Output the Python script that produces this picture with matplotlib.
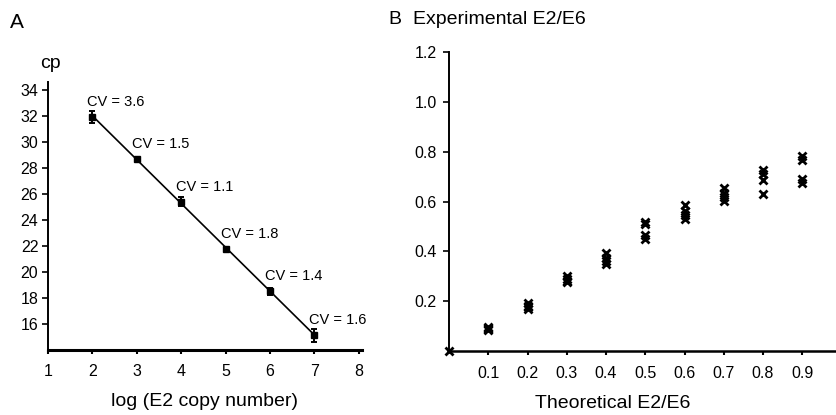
import numpy as np
import matplotlib
matplotlib.use("Agg")
import matplotlib.pyplot as plt

plt.rcParams['font.family'] = ['Liberation Sans', 'DejaVu Sans']

# Panel A data
log_copies = [2, 3, 4, 5, 6, 7]
cp_values = [31.9, 28.7, 25.4, 21.8, 18.5, 15.15]
cp_err = [0.45, 0.15, 0.35, 0.15, 0.3, 0.5]
cv_labels = ["CV = 3.6", "CV = 1.5", "CV = 1.1", "CV = 1.8", "CV = 1.4", "CV = 1.6"]
a_xticks = [1, 2, 3, 4, 5, 6, 7, 8]
a_yticks = [16, 18, 20, 22, 24, 26, 28, 30, 32, 34]

# Panel B data
theo = [0.0,
        0.1, 0.1, 0.1, 0.1,
        0.2, 0.2, 0.2, 0.2,
        0.3, 0.3, 0.3, 0.3,
        0.4, 0.4, 0.4, 0.4,
        0.5, 0.5, 0.5, 0.5,
        0.6, 0.6, 0.6, 0.6,
        0.7, 0.7, 0.7, 0.7,
        0.8, 0.8, 0.8, 0.8,
        0.9, 0.9, 0.9, 0.9]
expt = [0.0,
        0.098, 0.092, 0.088, 0.085,
        0.192, 0.182, 0.175, 0.170,
        0.302, 0.290, 0.280, 0.275,
        0.392, 0.375, 0.362, 0.350,
        0.517, 0.510, 0.465, 0.450,
        0.585, 0.560, 0.545, 0.528,
        0.655, 0.635, 0.617, 0.602,
        0.727, 0.710, 0.685, 0.632,
        0.782, 0.768, 0.692, 0.675]
b_xticks = [0.1, 0.2, 0.3, 0.4, 0.5, 0.6, 0.7, 0.8, 0.9]
b_yticks = [0.2, 0.4, 0.6, 0.8, 1.0, 1.2]

fig = plt.figure(figsize=(8.36, 4.15), dpi=100)

# ---------- Panel A ----------
axA = fig.add_axes([0.0574, 0.1566, 0.3756, 0.6458])
slope, intercept = np.polyfit(log_copies, cp_values, 1)
xl = np.array([log_copies[0], log_copies[-1]])
axA.plot(xl, slope * xl + intercept, color='black', lw=1.2)
axA.errorbar(log_copies, cp_values, yerr=cp_err, fmt='s', color='black',
             ms=4.5, capsize=2.5, elinewidth=1.4, capthick=1.4)
for x, y, t in zip(log_copies, cp_values, cv_labels):
    axA.annotate(t, (x, y), xytext=(-5, 15), textcoords='offset pixels',
                 ha='left', va='center', fontsize=10.5)
axA.set_xlim(1, 8.07)
axA.set_ylim(14, 34.6)
axA.set_xticks(a_xticks)
axA.set_yticks(a_yticks)
for s in ['top', 'right']:
    axA.spines[s].set_visible(False)
axA.spines['left'].set_linewidth(1.4)
axA.spines['bottom'].set_linewidth(2.2)
axA.tick_params(axis='y', direction='out', length=4, width=1.2, labelsize=11.5, pad=3)
axA.tick_params(axis='x', direction='out', length=3, width=1.5, labelsize=11.5, pad=7)
axA.set_xlabel("log (E2 copy number)", fontsize=14, labelpad=10)
fig.text(40 / 836, 1 - 63 / 415, "cp", fontsize=14, ha='left', va='center')
fig.text(10 / 836, 1 - 22 / 415, "A", fontsize=15, ha='left', va='center')

# ---------- Panel B ----------
axB = fig.add_axes([0.5371, 0.1542, 0.4629, 0.7205])
axB.plot(theo, expt, linestyle='none', marker='x', color='black', ms=5.5, mew=2.0,
         clip_on=False)
axB.set_xlim(0, 0.986)
axB.set_ylim(0, 1.2)
axB.set_xticks(b_xticks)
axB.set_yticks(b_yticks)
axB.set_xticklabels([f"{v:.1f}" for v in b_xticks])
axB.set_yticklabels([f"{v:.1f}" for v in b_yticks])
for s in ['top', 'right']:
    axB.spines[s].set_visible(False)
axB.spines['left'].set_linewidth(1.4)
axB.spines['bottom'].set_linewidth(1.8)
axB.tick_params(axis='y', direction='out', length=4, width=1.2, labelsize=11.5, pad=5)
axB.tick_params(axis='x', direction='out', length=3, width=1.5, labelsize=11.5, pad=8)
axB.set_xlabel("Theoretical E2/E6", fontsize=14)
axB.xaxis.set_label_coords((613 - 449) / (836 - 449), -(403 - 351) / (351 - 52), transform=axB.transAxes)
axB.xaxis.label.set_va('center')
fig.text(388 / 836, 1 - 20 / 415, "B", fontsize=14, ha='left', va='center')
fig.text(413 / 836, 1 - 20 / 415, "Experimental E2/E6", fontsize=14, ha='left', va='center')

fig.savefig("out.png", dpi=100)
